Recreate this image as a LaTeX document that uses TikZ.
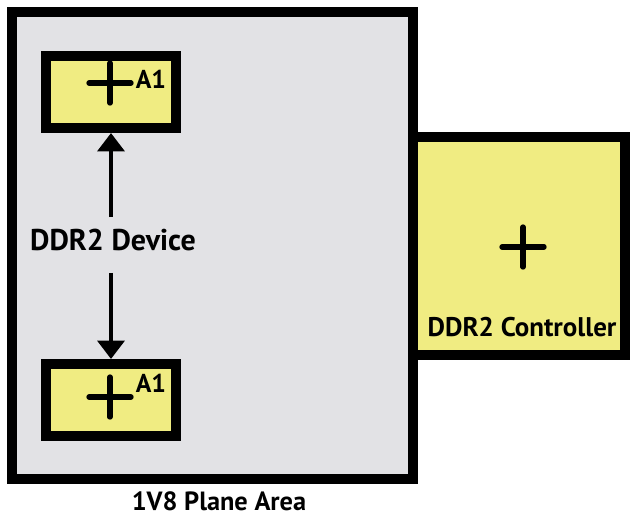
\documentclass[tikz,border=0pt]{standalone}
\usepackage{fontspec}
\setmainfont{PT Sans}
\usetikzlibrary{arrows.meta,positioning}
\definecolor{planegray}{RGB}{226,226,229}
\definecolor{padyellow}{RGB}{240,236,130}
\tikzset{
  plane/.style={rectangle,draw=black,line width=3mm,fill=planegray,
                minimum width=120.3mm,minimum height=140.1mm,inner sep=0pt},
  ctrlbox/.style={rectangle,draw=black,line width=3mm,fill=padyellow,
                  minimum width=63.6mm,minimum height=65.4mm,inner sep=0pt},
  devbox/.style={rectangle,draw=black,line width=3mm,fill=padyellow,
                 minimum width=39mm,minimum height=21.6mm,inner sep=0pt},
  lbl/.style={font=\bfseries\fontsize{#1}{#1}\selectfont,inner sep=0pt},
  lbl/.default=20,
  arr/.style={-{Triangle[length=5.5mm,width=8mm]},line width=1.3mm},
  cross/.pic={\draw[line width=1.6mm,line cap=round] (-21,0) -- (21,0) (0,-20) -- (0,20);},
}
\begin{document}
\begin{tikzpicture}[x=0.3mm,y=-0.3mm]
  \useasboundingbox (0,0) rectangle (631,517);
  % plane and controller
  \node[plane] (plane) at (212.5,245.5) {};
  \node[ctrlbox] (ctrl) at (519,246) {};
  \pic at (523,247) {cross};
  \node[lbl=23] (ctrltxt) at (522,327) {DDR2 Controller};
  \node[lbl=22.5] (planetxt) at (219,501) {1V8 Plane Area};
  % devices
  \node[devbox] (devtop) at (111,92) {};
  \pic at (110,83) {cross};
  \node[lbl=22] (atop) at (151,79) {A1};
  \node[devbox] (devbot) at (111,400) {};
  \pic at (110,397) {cross};
  \node[lbl=22] (abot) at (151,383) {A1};
  \node[lbl=25.6] (devlbl) at (113,240) {DDR2 Device};
  \draw[arr] ([yshift=3.5mm]devlbl.north -| devtop) -- (devtop);
  \draw[arr] ([yshift=-6.5mm]devlbl.south -| devbot) -- (devbot);
\end{tikzpicture}
\end{document}
